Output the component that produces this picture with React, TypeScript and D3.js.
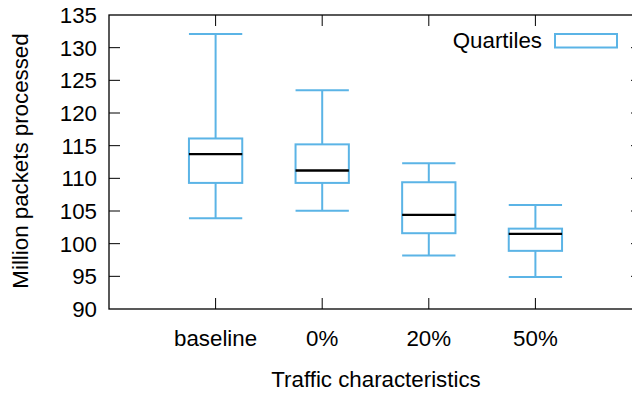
import React, { useRef, useEffect } from "react";
import * as d3 from "d3";

// categories and box statistics
const categories = ["baseline", "0%", "20%", "50%"];
const whiskerLow = [103.9, 105.05, 98.2, 94.9];
const quartileLow = [109.3, 109.3, 101.6, 98.9];
const medians = [113.7, 111.2, 104.4, 101.5];
const quartileHigh = [116.1, 115.2, 109.4, 102.3];
const whiskerHigh = [132.1, 123.5, 112.3, 105.9];
const yTicks = [90, 95, 100, 105, 110, 115, 120, 125, 130, 135];

const W = 640;
const H = 395;
const margin = { left: 109, right: -2, top: 15, bottom: 86 };
const boxColor = "#5bb4e6";
const font = "Liberation Sans, Arial, sans-serif";
const fs = 22.3;

function BoxChart() {
  const svgRef = useRef<SVGSVGElement>(null);

  useEffect(() => {
    const svg = d3.select(svgRef.current);
    svg.selectAll("*").remove();

    const x = d3
      .scaleLinear()
      .domain([0, categories.length + 1])
      .range([margin.left, W - margin.right]);
    const y = d3
      .scaleLinear()
      .domain([90, 135])
      .range([H - margin.bottom, margin.top]);
    const step = x(1) - x(0);
    const bw = step / 2;

    const data = categories.map((c, i) => ({
      c,
      i: i + 1,
      wl: whiskerLow[i],
      ql: quartileLow[i],
      md: medians[i],
      qh: quartileHigh[i],
      wh: whiskerHigh[i],
    }));

    // y ticks on both sides, pointing inward
    const tickLen = 11;
    const ticks = svg.append("g");
    yTicks.forEach((t) => {
      if (t === 90 || t === 135) return;
      ticks
        .append("line")
        .attr("x1", x(0))
        .attr("x2", x(0) + tickLen)
        .attr("y1", y(t))
        .attr("y2", y(t))
        .attr("stroke", "#000");
      ticks
        .append("line")
        .attr("x1", x(5))
        .attr("x2", x(5) - tickLen)
        .attr("y1", y(t))
        .attr("y2", y(t))
        .attr("stroke", "#000");
    });
    yTicks.forEach((t) => {
      svg
        .append("text")
        .attr("x", x(0) - 12)
        .attr("y", y(t) + 8)
        .attr("text-anchor", "end")
        .attr("font-family", font)
        .attr("font-size", fs)
        .text(t);
    });

    // x ticks, bottom and top
    data.forEach((d) => {
      ticks
        .append("line")
        .attr("x1", x(d.i))
        .attr("x2", x(d.i))
        .attr("y1", y(90))
        .attr("y2", y(90) - tickLen)
        .attr("stroke", "#000");
      ticks
        .append("line")
        .attr("x1", x(d.i))
        .attr("x2", x(d.i))
        .attr("y1", y(135))
        .attr("y2", y(135) + tickLen)
        .attr("stroke", "#000");
      svg
        .append("text")
        .attr("x", x(d.i))
        .attr("y", 346)
        .attr("text-anchor", "middle")
        .attr("font-family", font)
        .attr("font-size", fs)
        .text(d.c);
    });

    // boxes
    const g = svg.append("g");
    data.forEach((d) => {
      const cx = x(d.i);
      const seg = (x1: number, y1: number, x2: number, y2: number, col = boxColor, w = 2) =>
        g
          .append("line")
          .attr("x1", x1)
          .attr("y1", y1)
          .attr("x2", x2)
          .attr("y2", y2)
          .attr("stroke", col)
          .attr("stroke-width", w);
      seg(cx, y(d.wh), cx, y(d.qh));
      seg(cx, y(d.ql), cx, y(d.wl));
      seg(cx - bw / 2, y(d.wh), cx + bw / 2, y(d.wh));
      seg(cx - bw / 2, y(d.wl), cx + bw / 2, y(d.wl));
      g.append("rect")
        .attr("x", cx - bw / 2)
        .attr("y", y(d.qh))
        .attr("width", bw)
        .attr("height", y(d.ql) - y(d.qh))
        .attr("fill", "none")
        .attr("stroke", boxColor)
        .attr("stroke-width", 2);
      seg(cx - bw / 2, y(d.md), cx + bw / 2, y(d.md), "#000", 2.3);
    });

    // frame
    svg
      .append("rect")
      .attr("x", x(0))
      .attr("y", y(135))
      .attr("width", x(5) - x(0))
      .attr("height", y(90) - y(135))
      .attr("fill", "none")
      .attr("stroke", "#000")
      .attr("stroke-width", 1.3);

    // legend
    svg
      .append("text")
      .attr("x", 542)
      .attr("y", 48)
      .attr("text-anchor", "end")
      .attr("font-family", font)
      .attr("font-size", fs)
      .text("Quartiles");
    svg
      .append("rect")
      .attr("x", 555)
      .attr("y", 34)
      .attr("width", 62)
      .attr("height", 13.5)
      .attr("fill", "none")
      .attr("stroke", boxColor)
      .attr("stroke-width", 2);

    // axis titles
    svg
      .append("text")
      .attr("transform", `translate(28, 161) rotate(-90)`)
      .attr("text-anchor", "middle")
      .attr("font-family", font)
      .attr("font-size", fs)
      .text("Million packets processed");
    svg
      .append("text")
      .attr("x", 376)
      .attr("y", 387)
      .attr("text-anchor", "middle")
      .attr("font-family", font)
      .attr("font-size", fs)
      .text("Traffic characteristics");
  }, []);

  return <svg ref={svgRef} width={W} height={H} style={{ display: "block" }} />;
}

export default function App() {
  return (
    <div style={{ margin: -8 }}>
      <BoxChart />
    </div>
  );
}
